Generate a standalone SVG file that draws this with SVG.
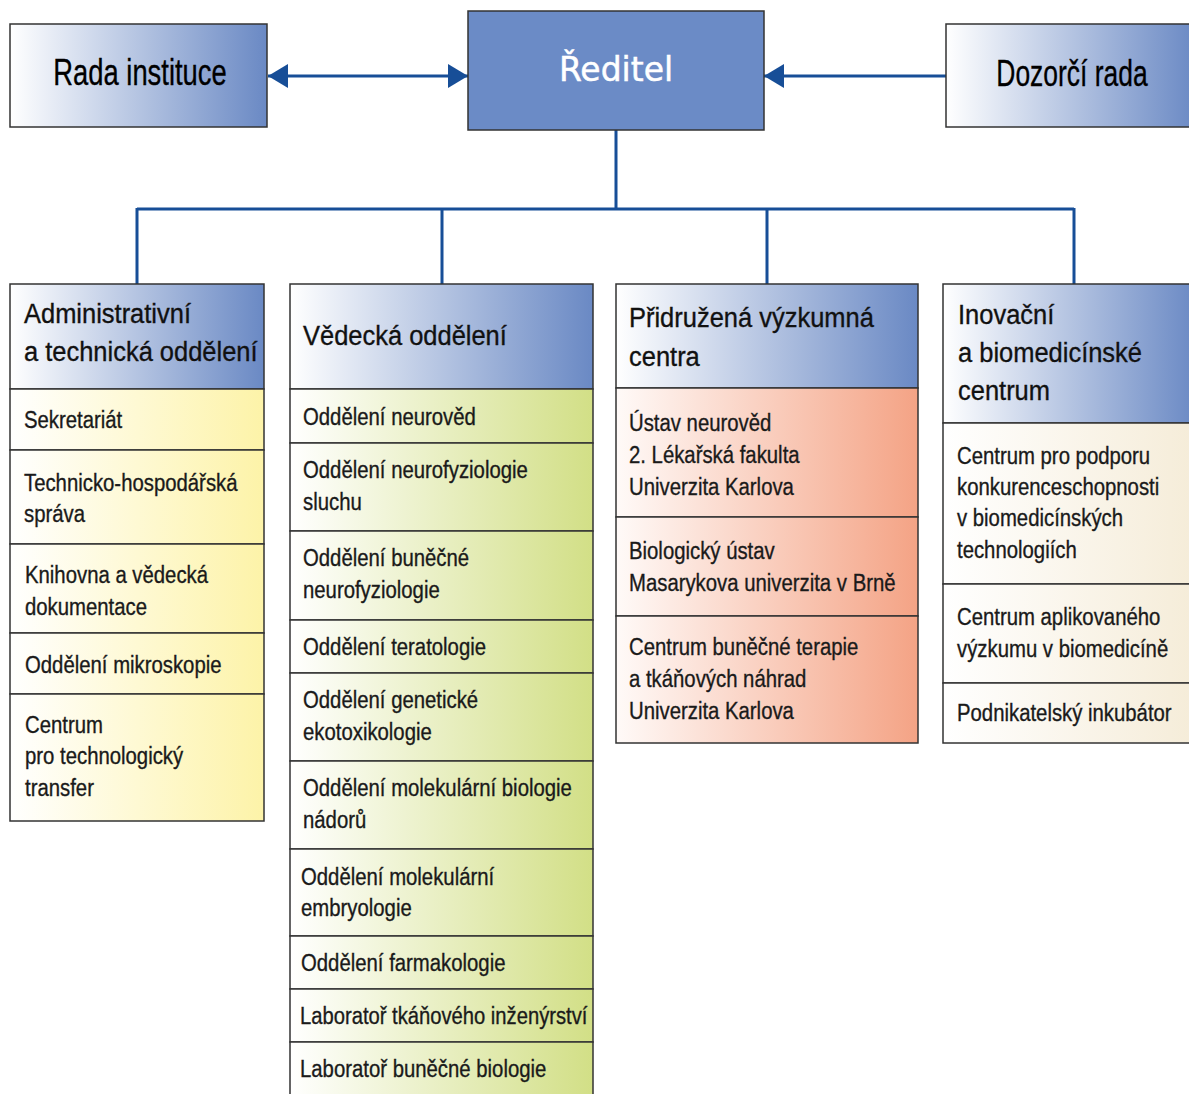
<svg xmlns="http://www.w3.org/2000/svg" width="1189" height="1094" viewBox="0 0 1189 1094">
<defs>
<linearGradient id="gBlue" x1="0" y1="0" x2="1" y2="0"><stop offset="0" stop-color="#ffffff"/><stop offset="1" stop-color="#6a89c4"/></linearGradient>
<linearGradient id="gYel" x1="0" y1="0" x2="1" y2="0"><stop offset="0" stop-color="#ffffff"/><stop offset="1" stop-color="#fdf3a8"/></linearGradient>
<linearGradient id="gGrn" x1="0" y1="0" x2="1" y2="0"><stop offset="0" stop-color="#ffffff"/><stop offset="1" stop-color="#d2df86"/></linearGradient>
<linearGradient id="gRed" x1="0" y1="0" x2="1" y2="0"><stop offset="0" stop-color="#fffaf8"/><stop offset="1" stop-color="#f4a385"/></linearGradient>
<linearGradient id="gCrm" x1="0" y1="0" x2="1" y2="0"><stop offset="0" stop-color="#ffffff"/><stop offset="1" stop-color="#f5ecd8"/></linearGradient>
<marker id="ah" viewBox="0 0 20 24" refX="20" refY="12" markerWidth="20" markerHeight="24" markerUnits="userSpaceOnUse" orient="auto-start-reverse"><path d="M0,0 L20,12 L0,24 Z" fill="#174e97"/></marker>
</defs>
<style>
text{font-family:"Liberation Sans",Arial,sans-serif;fill:#1a1a1a;stroke:#1a1a1a;stroke-width:0.35}
.it{font-size:24.5px}
.hd{font-size:28px;fill:#111;stroke:#111}
.top{font-size:37px;fill:#000;stroke:#000;text-anchor:middle}
.dir{font-family:"DejaVu Sans",sans-serif;font-size:34px;fill:#fff;stroke:#fff;stroke-width:0.5;text-anchor:middle}
.box{stroke:#333;stroke-width:1.5}
.conn{stroke:#174e97;stroke-width:3;fill:none}
</style>
<g id="connectors">
<line class="conn" x1="268" y1="76" x2="468" y2="76" marker-start="url(#ah)" marker-end="url(#ah)"/>
<line class="conn" x1="946" y1="76" x2="764" y2="76" marker-end="url(#ah)"/>
<path class="conn" d="M616,130 V209 M137,209 H1074 M137,208 V284 M442,208 V284 M767,208 V284 M1074,208 V284"/>
</g>
<g id="rada">
<rect class="box" x="10" y="24" width="257" height="103" fill="url(#gBlue)"/>
<text class="top" transform="translate(140,85) scale(0.74,1)">Rada instituce</text>
</g>
<g id="reditel">
<rect class="box" x="468" y="11" width="296" height="119" fill="#6b8bc6"/>
<text class="dir" transform="translate(616,81) scale(0.97,1)">Ředitel</text>
</g>
<g id="dozorci">
<rect class="box" x="946" y="24" width="250" height="103" fill="url(#gBlue)"/>
<text class="top" transform="translate(1072,86) scale(0.715,1)">Dozorčí rada</text>
</g>
<g id="col1">
<rect class="box" x="10" y="284" width="254" height="105" fill="url(#gBlue)"/>
<text class="hd" transform="translate(24,323) scale(0.91,1)">Administrativní</text>
<text class="hd" transform="translate(24,361) scale(0.91,1)">a technická oddělení</text>
<rect class="box" x="10" y="389" width="254" height="61" fill="url(#gYel)"/>
<text class="it" transform="translate(24,428) scale(0.83,1)">Sekretariát</text>
<rect class="box" x="10" y="450" width="254" height="94" fill="url(#gYel)"/>
<text class="it" transform="translate(24,491) scale(0.83,1)">Technicko-hospodářská</text>
<text class="it" transform="translate(24,522) scale(0.83,1)">správa</text>
<rect class="box" x="10" y="544" width="254" height="89" fill="url(#gYel)"/>
<text class="it" transform="translate(25,583) scale(0.83,1)">Knihovna a vědecká</text>
<text class="it" transform="translate(25,615) scale(0.83,1)">dokumentace</text>
<rect class="box" x="10" y="633" width="254" height="61" fill="url(#gYel)"/>
<text class="it" transform="translate(25,673) scale(0.83,1)">Oddělení mikroskopie</text>
<rect class="box" x="10" y="694" width="254" height="127" fill="url(#gYel)"/>
<text class="it" transform="translate(25,733) scale(0.83,1)">Centrum</text>
<text class="it" transform="translate(25,764) scale(0.83,1)">pro technologický</text>
<text class="it" transform="translate(25,796) scale(0.83,1)">transfer</text>
</g>
<g id="col2">
<rect class="box" x="290" y="284" width="303" height="105" fill="url(#gBlue)"/>
<text class="hd" transform="translate(303,345) scale(0.91,1)">Vědecká oddělení</text>
<rect class="box" x="290" y="389" width="303" height="54" fill="url(#gGrn)"/>
<text class="it" transform="translate(303,425) scale(0.83,1)">Oddělení neurověd</text>
<rect class="box" x="290" y="443" width="303" height="88" fill="url(#gGrn)"/>
<text class="it" transform="translate(303,478) scale(0.83,1)">Oddělení neurofyziologie</text>
<text class="it" transform="translate(303,510) scale(0.83,1)">sluchu</text>
<rect class="box" x="290" y="531" width="303" height="89" fill="url(#gGrn)"/>
<text class="it" transform="translate(303,566) scale(0.83,1)">Oddělení buněčné</text>
<text class="it" transform="translate(303,598) scale(0.83,1)">neurofyziologie</text>
<rect class="box" x="290" y="620" width="303" height="53" fill="url(#gGrn)"/>
<text class="it" transform="translate(303,655) scale(0.83,1)">Oddělení teratologie</text>
<rect class="box" x="290" y="673" width="303" height="88" fill="url(#gGrn)"/>
<text class="it" transform="translate(303,708) scale(0.83,1)">Oddělení genetické</text>
<text class="it" transform="translate(303,740) scale(0.83,1)">ekotoxikologie</text>
<rect class="box" x="290" y="761" width="303" height="88" fill="url(#gGrn)"/>
<text class="it" transform="translate(303,796) scale(0.83,1)">Oddělení molekulární biologie</text>
<text class="it" transform="translate(303,828) scale(0.83,1)">nádorů</text>
<rect class="box" x="290" y="849" width="303" height="87" fill="url(#gGrn)"/>
<text class="it" transform="translate(301,885) scale(0.83,1)">Oddělení molekulární</text>
<text class="it" transform="translate(301,916) scale(0.83,1)">embryologie</text>
<rect class="box" x="290" y="936" width="303" height="53" fill="url(#gGrn)"/>
<text class="it" transform="translate(301,971) scale(0.83,1)">Oddělení farmakologie</text>
<rect class="box" x="290" y="989" width="303" height="53" fill="url(#gGrn)"/>
<text class="it" transform="translate(300,1024) scale(0.825,1)">Laboratoř tkáňového inženýrství</text>
<rect class="box" x="290" y="1042" width="303" height="60" fill="url(#gGrn)"/>
<text class="it" transform="translate(300,1077) scale(0.83,1)">Laboratoř buněčné biologie</text>
</g>
<g id="col3">
<rect class="box" x="616" y="284" width="302" height="104" fill="url(#gBlue)"/>
<text class="hd" transform="translate(629,327) scale(0.91,1)">Přidružená výzkumná</text>
<text class="hd" transform="translate(629,366) scale(0.91,1)">centra</text>
<rect class="box" x="616" y="388" width="302" height="129" fill="url(#gRed)"/>
<text class="it" transform="translate(629,431) scale(0.83,1)">Ústav neurověd</text>
<text class="it" transform="translate(629,463) scale(0.83,1)">2. Lékařská fakulta</text>
<text class="it" transform="translate(629,495) scale(0.83,1)">Univerzita Karlova</text>
<rect class="box" x="616" y="517" width="302" height="99" fill="url(#gRed)"/>
<text class="it" transform="translate(629,559) scale(0.83,1)">Biologický ústav</text>
<text class="it" transform="translate(629,591) scale(0.83,1)">Masarykova univerzita v Brně</text>
<rect class="box" x="616" y="616" width="302" height="127" fill="url(#gRed)"/>
<text class="it" transform="translate(629,655) scale(0.83,1)">Centrum buněčné terapie</text>
<text class="it" transform="translate(629,687) scale(0.83,1)">a tkáňových náhrad</text>
<text class="it" transform="translate(629,719) scale(0.83,1)">Univerzita Karlova</text>
</g>
<g id="col4">
<rect class="box" x="943" y="284" width="253" height="139" fill="url(#gBlue)"/>
<text class="hd" transform="translate(958,324) scale(0.91,1)">Inovační</text>
<text class="hd" transform="translate(958,362) scale(0.91,1)">a biomedicínské</text>
<text class="hd" transform="translate(958,400) scale(0.91,1)">centrum</text>
<rect class="box" x="943" y="423" width="253" height="161" fill="url(#gCrm)"/>
<text class="it" transform="translate(957,464) scale(0.83,1)">Centrum pro podporu</text>
<text class="it" transform="translate(957,495) scale(0.83,1)">konkurenceschopnosti</text>
<text class="it" transform="translate(957,526) scale(0.83,1)">v biomedicínských</text>
<text class="it" transform="translate(957,558) scale(0.83,1)">technologiích</text>
<rect class="box" x="943" y="584" width="253" height="99" fill="url(#gCrm)"/>
<text class="it" transform="translate(957,625) scale(0.83,1)">Centrum aplikovaného</text>
<text class="it" transform="translate(957,657) scale(0.83,1)">výzkumu v biomedicíně</text>
<rect class="box" x="943" y="683" width="253" height="60" fill="url(#gCrm)"/>
<text class="it" transform="translate(957,721) scale(0.83,1)">Podnikatelský inkubátor</text>
</g>
</svg>
